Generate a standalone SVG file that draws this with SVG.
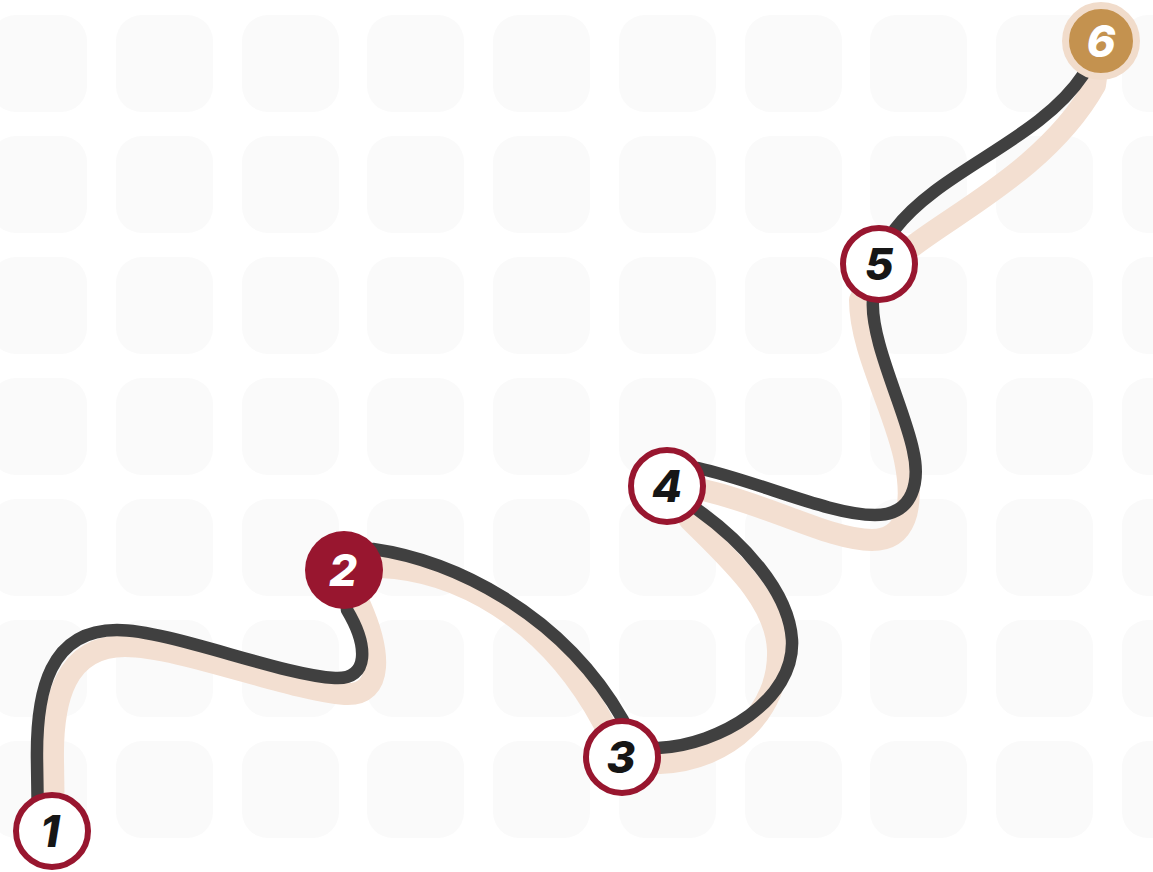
<svg xmlns="http://www.w3.org/2000/svg" width="1153" height="872" viewBox="0 0 1153 872">
<defs>
<style>
.tile{fill:#fafafa}
.shadow{fill:none;stroke:#f3dfd1;stroke-width:22;stroke-linecap:round;stroke-linejoin:round}
.line{fill:none;stroke:#404040;stroke-width:12.5;stroke-linecap:round;stroke-linejoin:round}
.ring{fill:#ffffff;stroke:#98162f;stroke-width:6}
.num{font-family:Inter,"Open Sans","Liberation Sans",sans-serif;font-weight:800;font-style:italic;font-size:44px;text-anchor:middle;fill:#161616}
.numw{fill:#ffffff}
</style>
<rect id="t" width="97" height="97" rx="26" ry="26" class="tile"/>
</defs>
<rect width="1153" height="872" fill="#ffffff"/>
<g id="background">
<use href="#t" x="-10" y="15"/><use href="#t" x="116" y="15"/><use href="#t" x="242" y="15"/><use href="#t" x="367" y="15"/><use href="#t" x="493" y="15"/><use href="#t" x="619" y="15"/><use href="#t" x="745" y="15"/><use href="#t" x="870" y="15"/><use href="#t" x="996" y="15"/><use href="#t" x="1122" y="15"/>
<use href="#t" x="-10" y="136"/><use href="#t" x="116" y="136"/><use href="#t" x="242" y="136"/><use href="#t" x="367" y="136"/><use href="#t" x="493" y="136"/><use href="#t" x="619" y="136"/><use href="#t" x="745" y="136"/><use href="#t" x="870" y="136"/><use href="#t" x="996" y="136"/><use href="#t" x="1122" y="136"/>
<use href="#t" x="-10" y="257"/><use href="#t" x="116" y="257"/><use href="#t" x="242" y="257"/><use href="#t" x="367" y="257"/><use href="#t" x="493" y="257"/><use href="#t" x="619" y="257"/><use href="#t" x="745" y="257"/><use href="#t" x="870" y="257"/><use href="#t" x="996" y="257"/><use href="#t" x="1122" y="257"/>
<use href="#t" x="-10" y="378"/><use href="#t" x="116" y="378"/><use href="#t" x="242" y="378"/><use href="#t" x="367" y="378"/><use href="#t" x="493" y="378"/><use href="#t" x="619" y="378"/><use href="#t" x="745" y="378"/><use href="#t" x="870" y="378"/><use href="#t" x="996" y="378"/><use href="#t" x="1122" y="378"/>
<use href="#t" x="-10" y="499"/><use href="#t" x="116" y="499"/><use href="#t" x="242" y="499"/><use href="#t" x="367" y="499"/><use href="#t" x="493" y="499"/><use href="#t" x="619" y="499"/><use href="#t" x="745" y="499"/><use href="#t" x="870" y="499"/><use href="#t" x="996" y="499"/><use href="#t" x="1122" y="499"/>
<use href="#t" x="-10" y="620"/><use href="#t" x="116" y="620"/><use href="#t" x="242" y="620"/><use href="#t" x="367" y="620"/><use href="#t" x="493" y="620"/><use href="#t" x="619" y="620"/><use href="#t" x="745" y="620"/><use href="#t" x="870" y="620"/><use href="#t" x="996" y="620"/><use href="#t" x="1122" y="620"/>
<use href="#t" x="-10" y="741"/><use href="#t" x="116" y="741"/><use href="#t" x="242" y="741"/><use href="#t" x="367" y="741"/><use href="#t" x="493" y="741"/><use href="#t" x="619" y="741"/><use href="#t" x="745" y="741"/><use href="#t" x="870" y="741"/><use href="#t" x="996" y="741"/><use href="#t" x="1122" y="741"/>
</g>
<g id="connectors">
<path class="shadow" d="M 54 830 L 53 760 C 52 700 65 646 125 646 C 180 646 290 690 345 694 C 385 696 380 650 360 605 L 344 570 L 380 567 C 455 570 545 615 603 722 L 622 757 L 660 763 C 730 760 780 710 778 650 C 776 600 730 560 690 520 L 667 487 L 703 490 C 770 505 830 540 872 540 C 905 540 915 510 905 460 C 895 410 860 350 860 300 L 879 264 L 913 246 C 960 210 1050 165 1095 85 L 1101 41"/>
<path class="line" d="M 38 830 L 37 760 C 36 690 50 630 117 630 C 170 630 280 675 335 678 C 370 680 368 645 347 610 L 344 570 L 373 549 C 450 560 560 610 623 720 L 622 757 L 658 748 C 720 745 795 700 792 640 C 789 590 740 540 698 510 L 667 487 L 698 468 C 760 482 830 515 875 515 C 915 515 920 480 913 450 C 905 410 870 340 873 300 L 879 264 L 895 229 C 940 170 1040 140 1083 75 L 1101 41"/>
</g>
<g id="node1"><circle class="ring" cx="52" cy="831" r="36"/><text class="num" x="50" y="847">1</text></g>
<g id="node2"><circle cx="344" cy="570" r="39" fill="#98162f"/><text class="num numw" x="343" y="586">2</text></g>
<g id="node3"><circle class="ring" cx="622" cy="757" r="36"/><text class="num" x="621" y="773">3</text></g>
<g id="node4"><circle class="ring" cx="667" cy="486" r="36"/><text class="num" x="667" y="502">4</text></g>
<g id="node5"><circle class="ring" cx="879" cy="264" r="36"/><text class="num" x="879" y="280">5</text></g>
<g id="node6"><circle cx="1101" cy="41" r="35.5" fill="#c4924f" stroke="#f1dccb" stroke-width="7"/><text class="num numw" x="1101" y="57">6</text></g>
</svg>
